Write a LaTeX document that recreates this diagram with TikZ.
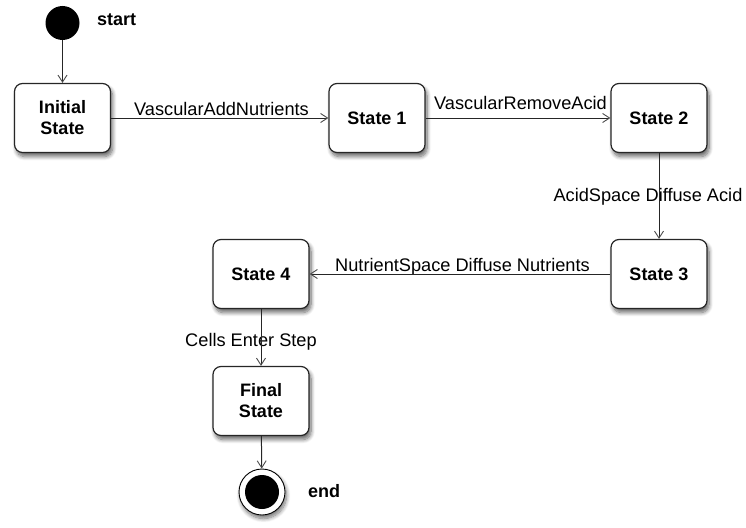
\documentclass[tikz,border=0pt]{standalone}
\usepackage{fontspec}
\setmainfont{Liberation Sans}
\usetikzlibrary{arrows.meta,shadows.blur}
\begin{document}
\begin{tikzpicture}[x=1pt,y=-1pt,
  statebox/.style={draw=black!85, line width=1.2pt, fill=white, rounded corners=8pt,
    minimum width=96pt, minimum height=69pt, inner sep=0pt, align=center,
    font=\fontsize{18}{21}\selectfont\bfseries,
    blur shadow={shadow xshift=2pt, shadow yshift=-4pt, shadow blur steps=8, shadow blur radius=4pt, shadow opacity=60}},
  trans/.style={draw=black!85, line width=1pt, -{Straight Barb[length=7pt,width=9pt,line width=0.9pt,color=black!70]}},
  lbl/.style={font=\fontsize{18.2}{21}\selectfont, inner sep=0pt, anchor=base},
  tag/.style={font=\fontsize{18}{21}\selectfont\bfseries, inner sep=0pt, anchor=base west},
]
\useasboundingbox (0,0) rectangle (746,527);

% initial and final pseudo-states
\node[circle, fill=black, minimum size=34pt, inner sep=0pt] (start) at (62.5,23) {};
\node[tag] (starttxt) at (97,25.5) {start};

\node[circle, draw=black, line width=0.9pt, fill=white, minimum size=46pt, inner sep=0pt,
  blur shadow={shadow xshift=1.5pt, shadow yshift=-3.5pt, shadow blur steps=8, shadow blur radius=4pt, shadow opacity=55}] (end) at (262,492) {};
\node[circle, fill=black, minimum size=34pt, inner sep=0pt] (endin) at (end.center) {};
\node[tag] (endtxt) at (308,497) {end};

% states
\node[statebox] (init) at (62.5,118) {Initial\\State};
\node[statebox] (s1) at (377,118) {State 1};
\node[statebox] (s2) at (659,118) {State 2};
\node[statebox] (s3) at (659,274) {State 3};
\node[statebox] (s4) at (261,274) {State 4};
\node[statebox] (fin) at (261,401) {Final\\State};

% labels
\node[lbl] (l1) at (221.5,115) {VascularAddNutrients};
\node[lbl] (l2) at (520.5,109) {VascularRemoveAcid};
\node[lbl] (l3) at (648,201) {AcidSpace Diffuse Acid};
\node[lbl] (l4) at (462.5,271.5) {NutrientSpace Diffuse Nutrients};
\node[lbl] (l5) at (251,346.5) {Cells Enter Step};

% transitions
\draw[trans] (start) -- (init);
\draw[trans] (init) -- (s1);
\draw[trans] (s1) -- (s2);
\draw[trans] (s2) -- (s3);
\draw[trans] (s3) -- (s4);
\draw[trans] (s4) -- (fin);
\draw[trans] (fin) -- (end);
\end{tikzpicture}
\end{document}
